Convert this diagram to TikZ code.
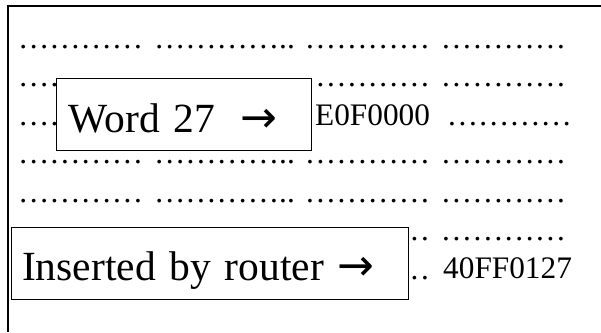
\documentclass[tikz,border=0pt]{standalone}
\usepackage{fontspec}
\setmainfont{Liberation Serif}
\newfontfamily\arrowfont{DejaVu Sans}
\newcommand\smallfont{\fontsize{31.3}{36}\selectfont}
\newcommand\bigfont{\fontsize{41.5}{48}\selectfont}
\newcommand\grpA{…………}
\newcommand\grpB{…………..}
\newcommand\dotsrow{\rlap{\grpA}\hspace{136pt}\rlap{\grpB}\hspace{151pt}\rlap{\grpA}\hspace{136pt}\rlap{\grpA}}
\newcommand\dotstwo{\rlap{\grpA}\hspace{136pt}\rlap{\grpB}}
\newcommand\dotsthree{\rlap{\grpA}\hspace{136pt}\rlap{\grpB}\hspace{151pt}\rlap{\grpA}}
\newcommand\bigarrow{{\arrowfont\fontsize{44}{48}\selectfont →}}
\begin{document}
\begin{tikzpicture}[x=1pt,y=-1pt,
  frame/.style={line width=1.8pt},
  rowtext/.style={anchor=base west, inner sep=0pt, font=\smallfont},
  labelbox/.style={draw, line width=1.3pt, fill=white, anchor=north west,
    inner ysep=0pt, align=left, font=\bigfont}]
\useasboundingbox (0,0) rectangle (601,332);
\coordinate (frameTR) at (601,5.7);
\coordinate (frameBL) at (8,332);
\draw[frame] (frameTR) -| (frameBL);
% dotted rows
\node[rowtext] (r1) at (17.8,48) {\dotsrow};
\node[rowtext] (r2) at (17.8,86.5) {\dotsrow};
\node[rowtext] (r3) at (17.8,125) {\dotstwo};
\node[rowtext] (v3) at (315,125.7) {E0F0000};
\node[rowtext] (r3b) at (446.6,125) {\grpA};
\node[rowtext] (r4) at (17.8,163.5) {\dotsrow};
\node[rowtext] (r5) at (17.8,202) {\dotsrow};
\node[rowtext] (r6) at (17.8,240.5) {\dotsrow};
\node[rowtext] (r7) at (17.8,279) {\dotsthree};
\node[rowtext] (v7) at (443,278) {40FF0127};
% label boxes
\node[labelbox, inner xsep=12pt, text width=231pt, text height=53.7pt, text depth=18.3pt]
  (word) at (56,78) {\makebox[171.7pt][l]{Word 27}\bigarrow};
\node[labelbox, inner xsep=10.5pt, text width=376pt, text height=53pt, text depth=19pt]
  (router) at (11,227) {\makebox[315.5pt][l]{Inserted by router}\bigarrow};
\end{tikzpicture}
\end{document}
